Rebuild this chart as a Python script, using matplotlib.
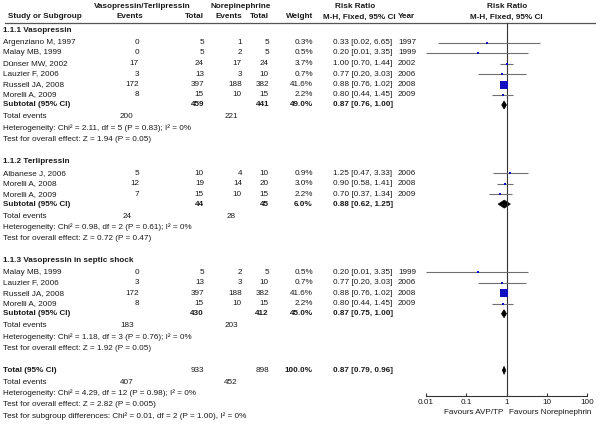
import matplotlib
matplotlib.use("Agg")
import matplotlib.pyplot as plt
from matplotlib.patches import Polygon

plt.rcParams['font.family'] = ['Liberation Sans', 'DejaVu Sans']

# ---------------- data ----------------
group_names = ["1.1.1 Vasopressin", "1.1.2 Terlipressin", "1.1.3 Vasopressin in septic shock"]

studies_1 = ["Argenziano M, 1997", "Malay MB, 1999", "Dünser MW, 2002", "Lauzier F, 2006",
             "Russell JA, 2008", "Morelli A, 2009"]
ev_vt_1 = [0, 0, 17, 3, 172, 8]
tot_vt_1 = [5, 5, 24, 13, 397, 15]
ev_ne_1 = [1, 2, 17, 3, 188, 10]
tot_ne_1 = [5, 5, 24, 10, 382, 15]
weight_1 = [0.3, 0.5, 3.7, 0.7, 41.6, 2.2]
rr_1 = [0.33, 0.20, 1.00, 0.77, 0.88, 0.80]
lo_1 = [0.02, 0.01, 0.70, 0.20, 0.76, 0.44]
hi_1 = [6.65, 3.35, 1.44, 3.03, 1.02, 1.45]
year_1 = [1997, 1999, 2002, 2006, 2008, 2009]

studies_2 = ["Albanese J, 2006", "Morelli A, 2008", "Morelli A, 2009"]
ev_vt_2 = [5, 12, 7]
tot_vt_2 = [10, 19, 15]
ev_ne_2 = [4, 14, 10]
tot_ne_2 = [10, 20, 15]
weight_2 = [0.9, 3.0, 2.2]
rr_2 = [1.25, 0.90, 0.70]
lo_2 = [0.47, 0.58, 0.37]
hi_2 = [3.33, 1.41, 1.34]
year_2 = [2006, 2008, 2009]

studies_3 = ["Malay MB, 1999", "Lauzier F, 2006", "Russell JA, 2008", "Morelli A, 2009"]
ev_vt_3 = [0, 3, 172, 8]
tot_vt_3 = [5, 13, 397, 15]
ev_ne_3 = [2, 3, 188, 10]
tot_ne_3 = [5, 10, 382, 15]
weight_3 = [0.5, 0.7, 41.6, 2.2]
rr_3 = [0.20, 0.77, 0.88, 0.80]
lo_3 = [0.01, 0.20, 0.76, 0.44]
hi_3 = [3.35, 3.03, 1.02, 1.45]
year_3 = [1999, 2006, 2008, 2009]

sub_tot_vt = [459, 44, 430]
sub_tot_ne = [441, 45, 412]
sub_weight = [49.0, 6.0, 45.0]
sub_rr = [0.87, 0.88, 0.87]
sub_lo = [0.76, 0.62, 0.75]
sub_hi = [1.00, 1.25, 1.00]
sub_events_vt = [200, 24, 183]
sub_events_ne = [221, 28, 203]
sub_het = ["Heterogeneity: Chi² = 2.11, df = 5 (P = 0.83); I² = 0%",
           "Heterogeneity: Chi² = 0.98, df = 2 (P = 0.61); I² = 0%",
           "Heterogeneity: Chi² = 1.18, df = 3 (P = 0.76); I² = 0%"]
sub_test = ["Test for overall effect: Z = 1.94 (P = 0.05)",
            "Test for overall effect: Z = 0.72 (P = 0.47)",
            "Test for overall effect: Z = 1.92 (P = 0.05)"]

total_vt = 933
total_ne = 898
total_weight = 100.0
total_rr, total_lo, total_hi = 0.87, 0.79, 0.96
total_events_vt = 407
total_events_ne = 452
total_het = "Heterogeneity: Chi² = 4.29, df = 12 (P = 0.98); I² = 0%"
total_test = "Test for overall effect: Z = 2.82 (P = 0.005)"
subgroup_test = "Test for subgroup differences: Chi² = 0.01, df = 2 (P = 1.00), I² = 0%"

tick_vals = [0.01, 0.1, 1, 10, 100]
tick_labels = ["0.01", "0.1", "1", "10", "100"]
favours_left = "Favours AVP/TP"
favours_right = "Favours Norepinephrin"

groups = [
    (studies_1, ev_vt_1, tot_vt_1, ev_ne_1, tot_ne_1, weight_1, rr_1, lo_1, hi_1, year_1),
    (studies_2, ev_vt_2, tot_vt_2, ev_ne_2, tot_ne_2, weight_2, rr_2, lo_2, hi_2, year_2),
    (studies_3, ev_vt_3, tot_vt_3, ev_ne_3, tot_ne_3, weight_3, rr_3, lo_3, hi_3, year_3),
]

# ---------------- figure ----------------
W, H = 600, 426
fig = plt.figure(figsize=(W / 100, H / 100), dpi=100)
tax = fig.add_axes([0, 0, 1, 1])
tax.set_xlim(0, W)
tax.set_ylim(H, 0)
tax.axis('off')

FS = 5.9
TC = '#1a1a1a'

def t(x, y, s, ha='left', bold=False):
    tax.text(x, y, s, ha=ha, va='center', fontsize=FS, color=TC,
             fontweight='bold' if bold else 'normal')

# column positions (pixels)
X_NAME = 3
X_EVT = 139
X_TOTVT = 204
X_EVN = 242
X_TOTNE = 269
X_W = 313
X_CI = 333
X_YEAR = 398
X_TEV_VT = 127
X_TEV_NE = 231

# headers
t(142, 6, "Vasopressin/Terlipressin", ha='center', bold=True)
t(241, 6, "Norepinephrine", ha='center', bold=True)
t(355, 6, "Risk Ratio", ha='center', bold=True)
t(507, 6, "Risk Ratio", ha='center', bold=True)
t(8, 17, "Study or Subgroup", bold=True)
t(X_EVT + 4, 17, "Events", ha='right', bold=True)
t(X_TOTVT, 17, "Total", ha='right', bold=True)
t(X_EVN, 17, "Events", ha='right', bold=True)
t(X_TOTNE, 17, "Total", ha='right', bold=True)
t(X_W, 17, "Weight", ha='right', bold=True)
t(323, 17, "M-H, Fixed, 95% CI", bold=True)
t(X_YEAR, 17, "Year", bold=True)
t(506, 17, "M-H, Fixed, 95% CI", ha='center', bold=True)
tax.plot([5, 595], [23, 23], color='#555555', lw=0.9)

# forest axes
X1 = 506.5
DEC = 40.25
Y_TOP, Y_AX = 23, 396
fax = fig.add_axes([(X1 - 2 * DEC) / W, (H - Y_AX) / H, 4 * DEC / W, (Y_AX - Y_TOP) / H])
fax.set_xscale('log')
fax.set_xlim(0.01, 100)
fax.set_ylim(Y_AX, Y_TOP)
fax.patch.set_alpha(0)
for s in ['top', 'left', 'right']:
    fax.spines[s].set_visible(False)
fax.spines['bottom'].set_color('#333333')
fax.spines['bottom'].set_linewidth(0.8)
fax.set_yticks([])
fax.set_xticks(tick_vals)
fax.set_xticklabels(tick_labels)
fax.minorticks_off()
fax.tick_params(axis='x', direction='in', length=2.5, width=0.8, color='#333333',
                labelsize=FS, labelcolor=TC, pad=2)
fax.axvline(1, color='#333333', lw=0.8)

MARKER_C = '#1010c0'
LINE_C = '#707070'

def study_mark(y, rr, lo, hi, w):
    fax.plot([lo, hi], [y, y], color=LINE_C, lw=0.8, solid_capstyle='butt')
    side_px = max(2.0, 1.1 * w ** 0.5)
    fax.plot([rr], [y], marker='s', color=MARKER_C, markersize=side_px * 0.72,
             markeredgewidth=0)

def diamond(y, rr, lo, hi, h=4.0):
    fax.add_patch(Polygon([(lo, y), (rr, y - h), (hi, y), (rr, y + h)],
                          closed=True, facecolor='black', edgecolor='black', lw=0.5))

y = 31.0
for gi, g in enumerate(groups):
    names, evt, tvt, evn, tne, wt, rr, lo, hi, yr = g
    t(X_NAME, y, group_names[gi], bold=True)
    y += 11.5
    for i in range(len(names)):
        t(X_NAME, y, names[i])
        t(X_EVT, y, str(evt[i]), ha='right')
        t(X_TOTVT, y, str(tvt[i]), ha='right')
        t(X_EVN, y, str(evn[i]), ha='right')
        t(X_TOTNE, y, str(tne[i]), ha='right')
        t(X_W, y, f"{wt[i]:.1f}%", ha='right')
        t(X_CI, y, f"{rr[i]:.2f} [{lo[i]:.2f}, {hi[i]:.2f}]")
        t(X_YEAR, y, str(yr[i]))
        study_mark(y, rr[i], lo[i], hi[i], wt[i])
        y += 10.5
    y -= 0.5
    t(X_NAME, y, "Subtotal (95% CI)", bold=True)
    t(X_TOTVT, y, str(sub_tot_vt[gi]), ha='right', bold=True)
    t(X_TOTNE, y, str(sub_tot_ne[gi]), ha='right', bold=True)
    t(X_W, y, f"{sub_weight[gi]:.1f}%", ha='right', bold=True)
    t(X_CI, y, f"{sub_rr[gi]:.2f} [{sub_lo[gi]:.2f}, {sub_hi[gi]:.2f}]", bold=True)
    diamond(y, sub_rr[gi], sub_lo[gi], sub_hi[gi])
    y += 12
    t(X_NAME, y, "Total events")
    t(X_TEV_VT, y, str(sub_events_vt[gi]), ha='center')
    t(X_TEV_NE, y, str(sub_events_ne[gi]), ha='center')
    y += 11.3
    t(X_NAME, y, sub_het[gi])
    y += 11.3
    t(X_NAME, y, sub_test[gi])
    y += 22

# overall total
t(X_NAME, y, "Total (95% CI)", bold=True)
t(X_TOTVT, y, str(total_vt), ha='right')
t(X_TOTNE, y, str(total_ne), ha='right')
t(X_W, y, f"{total_weight:.1f}%", ha='right', bold=True)
t(X_CI, y, f"{total_rr:.2f} [{total_lo:.2f}, {total_hi:.2f}]", bold=True)
diamond(y, total_rr, total_lo, total_hi)
y += 12
t(X_NAME, y, "Total events")
t(X_TEV_VT, y, str(total_events_vt), ha='center')
t(X_TEV_NE, y, str(total_events_ne), ha='center')
y += 11.3
t(X_NAME, y, total_het)
y += 11.3
t(X_NAME, y, total_test)
y += 11.3
t(X_NAME, y, subgroup_test)

t(X1 - 3.5, 413, favours_left, ha='right')
t(X1 + 2.5, 413, favours_right, ha='left')

fig.savefig("out.png", dpi=100)
